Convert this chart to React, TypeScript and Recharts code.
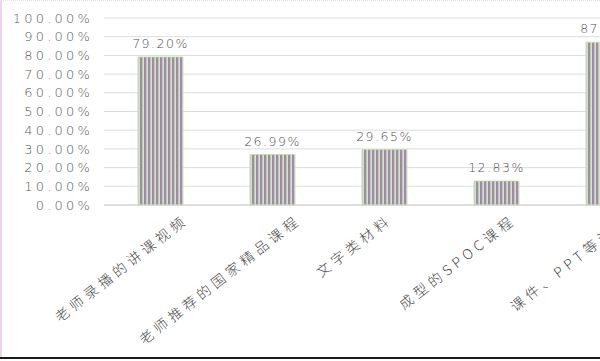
import { Bar, BarChart, CartesianGrid, LabelList, XAxis, YAxis } from 'recharts';

const categories = ['老师录播的讲课视频', '老师推荐的国家精品课程', '文字类材料', '成型的SPOC课程', '课件、PPT等资料'];
const shares = [79.2, 26.99, 29.65, 12.83, 87.05];
const yTicks = [0, 10, 20, 30, 40, 50, 60, 70, 80, 90, 100];

const data = categories.map((name, i) => ({ name, value: shares[i] }));

const pct = (v: number) => `${v.toFixed(2)}%`;

// Excel shifts the end of a slanted label further right the longer the label is
function labelUnits(s: string) {
  let n = 0;
  for (const ch of s) n += /[\x00-\x7f]/.test(ch) ? 0.6 : 1;
  return n;
}

function SlantTick({ x, y, payload }: any) {
  const shift = Math.min(26, Math.max(4, 5 * (labelUnits(payload.value) - 4))) + 4;
  return (
    <g transform={`translate(${x + shift},${y + 17})`}>
      <text
        transform="rotate(-38)"
        textAnchor="end"
        fill="#4a4a4a"
        fontSize={14}
        letterSpacing={4.2}
        fontFamily="'Noto Sans CJK SC', sans-serif"
        fontWeight={300}
      >
        {payload.value}
      </text>
    </g>
  );
}

export default function App() {
  return (
    <div style={{ position: 'fixed', left: 0, top: 0, width: 600, height: 361, overflow: 'hidden', background: '#fff' }}>
      <div style={{ position: 'absolute', left: 0, top: 0, width: 2, height: 358, background: '#ecd3ee' }} />
      <div style={{ position: 'absolute', left: 0, top: 0, width: 600, height: 0, borderTop: '1px dotted #e4e4e4' }} />
      <div style={{ position: 'absolute', left: 0, top: 357, width: 600, height: 2, background: '#1a1a1a' }} />
      <BarChart
        width={720}
        height={361}
        data={data}
        margin={{ top: 18, right: 56, bottom: 0, left: 0 }}
        style={{ position: 'absolute', left: 0, top: 0 }}
      >
        <defs>
          <pattern id="stripes" width={4} height={10} patternUnits="userSpaceOnUse">
            <rect x={0} y={0} width={4} height={10} fill="#d0e6bd" />
            <rect x={0} y={0} width={2.3} height={10} fill="#a089ad" />
          </pattern>
        </defs>
        <CartesianGrid vertical={false} stroke="#dcdcdc" />
        <XAxis
          dataKey="name"
          interval={0}
          height={156}
          tickSize={0}
          tickMargin={0}
          axisLine={{ stroke: '#d0d0d0' }}
          tick={<SlantTick />}
        />
        <YAxis
          width={104}
          domain={[0, 100]}
          ticks={yTicks}
          interval={0}
          tickFormatter={pct}
          axisLine={false}
          tickLine={false}
          tickSize={0}
          tickMargin={11}
          tick={{ fill: '#5a5a5a', fontSize: 13, letterSpacing: 3.2, fontFamily: "'DejaVu Sans', sans-serif", fontWeight: 300 }}
        />
        <Bar dataKey="value" barSize={45} fill="url(#stripes)" stroke="#c4dcae" strokeWidth={0.8} isAnimationActive={false}>
          <LabelList
            dataKey="value"
            position="top"
            offset={9}
            formatter={(v: any) => pct(Number(v))}
            fill="#505050"
            fontSize={12.5}
            letterSpacing={1.5}
            fontFamily="'DejaVu Sans', sans-serif"
            fontWeight={300}
          />
        </Bar>
      </BarChart>
    </div>
  );
}
